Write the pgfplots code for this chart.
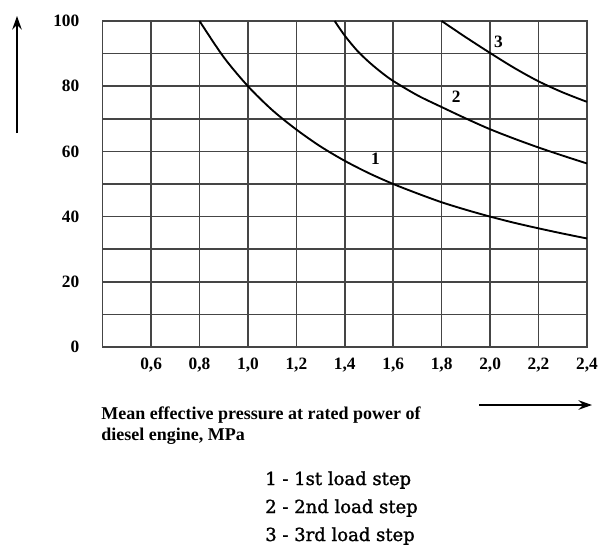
\documentclass[border=0pt]{standalone}
\usepackage{fontspec}
\setmainfont{Liberation Serif}
\newfontfamily\legfont[FakeBold=1.4]{DejaVu Serif}
\usepackage{pgfplots}
\pgfplotsset{compat=1.18}
\usetikzlibrary{arrows.meta}
\definecolor{gridc}{HTML}{454545}
\begin{document}
\begin{tikzpicture}
\useasboundingbox (0,0) rectangle (450pt,-412.5pt);
\begin{axis}[
  at={(77pt,-260.25pt)}, anchor=south west,
  scale only axis, width=363.2pt, height=244.5pt,
  xmin=0.4, xmax=2.4, ymin=0, ymax=100,
  xtick={0.6,0.8,1.0,1.2,1.4,1.6,1.8,2.0,2.2,2.4},
  ytick={0,20,40,60,80,100},
  minor ytick={10,30,50,70,90},
  grid=both,
  major grid style={gridc, line width=1.1pt},
  minor grid style={gridc, line width=1.1pt},
  axis line style={gridc, line width=1.1pt},
  major tick length=0pt, minor tick length=0pt,
  tick label style={font=\fontsize{13}{15}\selectfont\bfseries},
  /pgf/number format/assume math mode=true,
  xticklabel={\pgfmathprintnumber[fixed,fixed zerofill,precision=1,use comma]{\tick}},
  yticklabel={\pgfmathprintnumber[fixed,precision=0]{\tick}},
  xticklabel style={yshift=-5pt},
  yticklabel style={xshift=-14pt},
  clip=false,
]
\addplot[black, line width=1.4pt, smooth] coordinates {
 (0.8,100) (0.9,88.9) (1.0,80) (1.1,72.7) (1.2,66.7) (1.3,61.5) (1.4,57.1)
 (1.5,53.3) (1.6,50) (1.7,47.1) (1.8,44.4) (1.9,42.1) (2.0,40) (2.1,38.1)
 (2.2,36.4) (2.3,34.8) (2.4,33.3)};
\addplot[black, line width=1.4pt, smooth] coordinates {
 (1.358,100) (1.4,95.5) (1.45,91.0) (1.5,87.4) (1.55,84.3) (1.6,81.6)
 (1.7,77.2) (1.8,73.6) (1.9,70.1) (2.0,66.8) (2.1,63.9) (2.2,61.2)
 (2.3,58.7) (2.4,56.3)};
\addplot[black, line width=1.4pt, smooth] coordinates {
 (1.8,100) (1.9,95) (2.0,90.2) (2.1,85.6) (2.2,81.5) (2.3,78.1) (2.4,75.2)};
\node[font=\fontsize{13}{15}\selectfont\bfseries] at (axis cs:1.527,57.6) {1};
\node[font=\fontsize{13}{15}\selectfont\bfseries] at (axis cs:1.86,76.7) {2};
\node[font=\fontsize{13}{15}\selectfont\bfseries] at (axis cs:2.035,93.6) {3};
\end{axis}
\begin{scope}[x=0.75pt,y=-0.75pt]
\draw[line width=1.6pt, -{Stealth[length=10pt,width=7pt]}] (17,133) -- (17,16);
\draw[line width=1.6pt, -{Stealth[length=10pt,width=7pt]}] (479,405) -- (592,405);
\node[anchor=base west, inner sep=0pt, align=left, font=\fontsize{13.5}{15.75}\selectfont\bfseries] at (101,440)
 {Mean effective pressure at rated power of\\diesel engine, MPa};
\node[anchor=base west, inner sep=0pt, align=left, font=\legfont\fontsize{13.5}{21}\selectfont] at (265,541)
 {1 - 1st load step\\2 - 2nd load step\\3 - 3rd load step};
\end{scope}
\end{tikzpicture}
\end{document}
